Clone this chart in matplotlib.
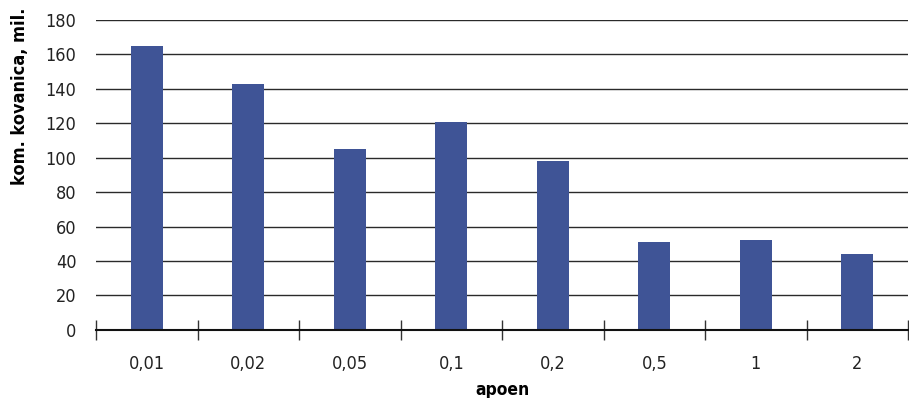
import numpy as np
import matplotlib.pyplot as plt
from matplotlib.ticker import FixedLocator

# denominations and coin counts (millions)
apoeni = ['0,01', '0,02', '0,05', '0,1', '0,2', '0,5', '1', '2']
kovanice = [165, 143, 105, 121, 98, 51, 52.5, 44]
y_ticks = [0, 20, 40, 60, 80, 100, 120, 140, 160, 180]

plt.rcParams['font.family'] = ['DejaVu Sans']
plt.rcParams['font.stretch'] = 'condensed'

fig = plt.figure(figsize=(9.09, 3.98), dpi=100)
ax = fig.add_axes([0.1056, 0.171, 0.8934, 0.779])

x = np.arange(len(apoeni))
ax.bar(x, kovanice, width=0.315, color='#3f5496', zorder=3)

ax.set_xlim(-0.5, len(apoeni) - 0.5)
ax.set_ylim(0, 180)
ax.set_yticks(y_ticks)
ax.yaxis.grid(True, color='#2a2a2a', linewidth=1)
ax.set_axisbelow(True)
ax.tick_params(axis='y', length=0, labelsize=13, pad=14, labelcolor='#222222')

# boundary ticks without labels, labels at category centres
ax.xaxis.set_major_locator(FixedLocator(np.arange(-0.5, len(apoeni), 1.0)))
ax.xaxis.set_minor_locator(FixedLocator(x))
ax.set_xticklabels([], minor=False)
ax.set_xticklabels(apoeni, minor=True)
ax.tick_params(axis='x', which='major', direction='inout', length=14, width=1, color='#333333')
ax.tick_params(axis='x', which='minor', length=0, labelsize=13, pad=18, labelcolor='#222222')

for s in ['left', 'right', 'top']:
    ax.spines[s].set_visible(False)
ax.spines['bottom'].set_color('#111111')
ax.spines['bottom'].set_linewidth(1.5)
ax.spines['bottom'].set_zorder(4)

ax.set_xlabel('apoen', fontsize=12.5, fontweight='bold', labelpad=6)
ax.set_ylabel('kom. kovanica, mil.', fontsize=13, fontweight='bold')
ax.yaxis.set_label_coords(-0.0825, 0.752)

fig.savefig('out.png', dpi=100)
